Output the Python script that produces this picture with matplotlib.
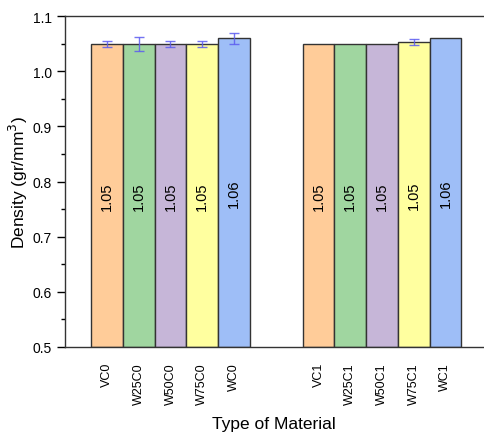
import numpy as np
import matplotlib
matplotlib.use("Agg")
import matplotlib.pyplot as plt
from matplotlib.ticker import MultipleLocator

plt.rcParams['font.family'] = ['Liberation Sans', 'DejaVu Sans']

# data
materials = ["VC0", "W25C0", "W50C0", "W75C0", "WC0",
             "VC1", "W25C1", "W50C1", "W75C1", "WC1"]
density = [1.05, 1.05, 1.05, 1.05, 1.06,
           1.05, 1.05, 1.05, 1.053, 1.06]
# nan = no error bar shown
density_err = [0.005, 0.013, 0.005, 0.005, 0.01,
               np.nan, np.nan, np.nan, 0.005, np.nan]
value_labels = ["1.05", "1.05", "1.05", "1.05", "1.06",
                "1.05", "1.05", "1.05", "1.05", "1.06"]
colors = ["#FFCC99", "#A0D6A0", "#C6B6D8", "#FFFF9F", "#9EBEF7"] * 2

# two groups of five bars, with a gap between them
x = np.concatenate([np.arange(5), np.arange(5) + 6.67])

fig = plt.figure(figsize=(4.84, 4.35), dpi=100)
ax = fig.add_axes([0.1343, 0.2007, 0.864, 0.7595])

ax.bar(x, np.array(density) - 0.5, width=1.0, bottom=0.5, color=colors,
       edgecolor="#333333", linewidth=1.0, zorder=2)
ax.errorbar(x, density, yerr=density_err, fmt="none", ecolor="#5c5cf0",
            elinewidth=1.0, capsize=3.5, capthick=1.0, alpha=0.85, zorder=3)

for xi, d, lab in zip(x, density, value_labels):
    ax.text(xi, (0.5 + d) / 2, lab, rotation=90, ha="center", va="center",
            fontsize=10.5, zorder=4)

ax.set_ylim(0.5, 1.1)
ax.set_xlim(-1.325, 11.86)
ax.yaxis.set_major_locator(MultipleLocator(0.1))
ax.yaxis.set_minor_locator(MultipleLocator(0.05))
ax.yaxis.set_major_formatter(matplotlib.ticker.FormatStrFormatter("%.1f"))
ax.tick_params(axis="y", which="major", direction="out", length=6, width=1, labelsize=10)
ax.tick_params(axis="y", which="minor", direction="out", length=3, width=1)

ax.set_xticks(x)
ax.set_xticklabels(materials, rotation=90, fontsize=9)
ax.tick_params(axis="x", length=0, pad=11)

ax.spines["right"].set_visible(False)
for s in ["left", "bottom", "top"]:
    ax.spines[s].set_linewidth(1.0)
    ax.spines[s].set_color("#333333")

ax.set_ylabel("Density (gr/mm$^3$)", fontsize=12.5, labelpad=2)
ax.set_xlabel("Type of Material", fontsize=12.5, labelpad=9)

fig.savefig("out.png", dpi=100)
